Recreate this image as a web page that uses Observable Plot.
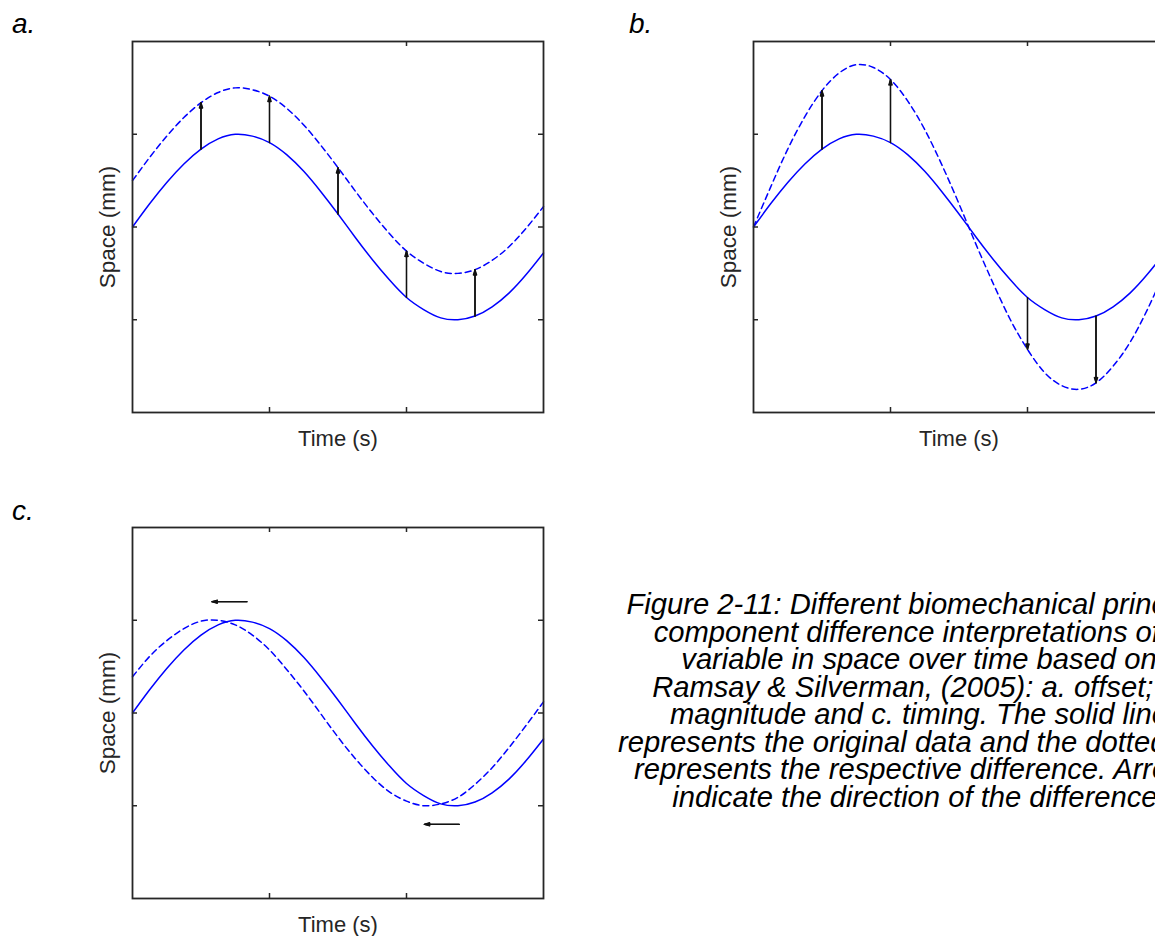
<!DOCTYPE html>
<html><head><meta charset="utf-8">
<script src="https://cdn.jsdelivr.net/npm/d3@7"></script>
<script src="https://cdn.jsdelivr.net/npm/@observablehq/plot@0.6"></script>
<style>
html,body{margin:0;padding:0;background:#fff;overflow:hidden;width:1155px;height:936px;}
#root{position:relative;width:1155px;height:936px;overflow:hidden;background:#fff;}
.panel{position:absolute;}
.lbl{position:absolute;font-family:"Liberation Sans",Arial,sans-serif;font-style:italic;font-size:28px;line-height:28px;color:#000;}
#caption{position:absolute;left:519px;width:800px;top:591px;text-align:center;font-family:"Liberation Sans",Arial,sans-serif;font-style:italic;font-size:29.2px;line-height:27.5px;color:#000;white-space:nowrap;}
</style></head><body><div id="root"></div>
<script>
// Time samples (s) and curve values (mm)
const time = [0,0.25,0.5,0.75,1,1.25,1.5,1.75,2,2.25,2.5,2.75,3,3.25,3.5,3.75,4,4.25,4.5,4.75,5,5.25,5.5,5.75,6];
const original  = [0,0.25,0.48,0.68,0.84,0.95,1.00,0.98,0.91,0.78,0.60,0.38,0.14,-0.11,-0.35,-0.57,-0.76,-0.89,-0.98,-1.00,-0.96,-0.86,-0.71,-0.51,-0.28];
const offsetCurve = [0.50,0.75,0.98,1.18,1.34,1.45,1.50,1.48,1.41,1.28,1.10,0.88,0.64,0.39,0.15,-0.07,-0.26,-0.39,-0.48,-0.50,-0.46,-0.36,-0.21,-0.01,0.22];
const magnitudeCurve = [0,0.43,0.84,1.19,1.47,1.66,1.75,1.72,1.59,1.36,1.05,0.67,0.25,-0.19,-0.61,-1.00,-1.32,-1.57,-1.71,-1.75,-1.68,-1.50,-1.24,-0.89,-0.49];
const timingCurve = [0.39,0.61,0.78,0.91,0.99,1.00,0.95,0.84,0.68,0.47,0.24,-0.01,-0.26,-0.49,-0.69,-0.85,-0.95,-1.00,-0.98,-0.91,-0.77,-0.59,-0.37,-0.13,0.12];

// Arrows
const offsetArrowTime = [1,2,3,4,5];
const offsetArrowFrom = [0.84,0.91,0.14,-0.76,-0.96];
const offsetArrowTo   = [1.34,1.41,0.64,-0.26,-0.46];
const magArrowTime = [1,2,4,5];
const magArrowFrom = [0.84,0.91,-0.76,-0.96];
const magArrowTo   = [1.47,1.59,-1.32,-1.68];
const timingArrowY    = [1.2,-1.2];
const timingArrowFrom = [1.67,4.77];
const timingArrowTo   = [1.16,4.26];

const xTicks = [2,4];
const yTicks = [-1,0,1];
const xLabel = "Time (s)";
const yLabel = "Space (mm)";
const panelLabels = ["a.","b.","c."];
const captionLines = [
  "Figure 2-11: Different biomechanical principal",
  "component difference interpretations of a",
  "variable in space over time based on",
  "Ramsay & Silverman, (2005): a. offset; b.",
  "magnitude and c. timing. The solid line",
  "represents the original data and the dotted line",
  "represents the respective difference. Arrows",
  "indicate the direction of the difference."
];

const W = 560, H = 460, ML = 132, MR = 17, MT = 41, MB = 48;
const IW = W - ML - MR, IH = H - MT - MB;
const axisColor = "#262626";
const blue = "#0000ff";
const font = "Liberation Sans, Arial, sans-serif";

function rows(vals){ return time.map((t,i)=>({t, v: vals[i]})); }

function arrowMarks(arrows){
  // stacked chevrons of decreasing angle give a filled-looking head
  return [36, 24, 12].map(a => Plot.arrow(arrows, {x1: "x1", y1: "y1", x2: "x2", y2: "y2", stroke: "#111", strokeWidth: 1.2, headLength: 7, headAngle: a}));
}

function panel(dashed, arrows){
  return Plot.plot({
    width: W, height: H,
    marginLeft: ML, marginRight: MR, marginTop: MT, marginBottom: MB,
    x: {domain: [0,6], axis: null},
    y: {domain: [-2,2], axis: null},
    style: {background: "transparent", overflow: "visible"},
    marks: [
      Plot.line(rows(dashed), {x: "t", y: "v", stroke: blue, strokeWidth: 1.5, strokeDasharray: "6,4", curve: "natural"}),
      Plot.line(rows(original), {x: "t", y: "v", stroke: blue, strokeWidth: 1.5, curve: "natural"}),
      ...arrowMarks(arrows),
      Plot.tickX(xTicks, {x: d=>d, insetTop: IH-5, stroke: axisColor, strokeWidth: 1.5}),
      Plot.tickX(xTicks, {x: d=>d, insetBottom: IH-5, stroke: axisColor, strokeWidth: 1.5}),
      Plot.tickY(yTicks, {y: d=>d, insetRight: IW-5, stroke: axisColor, strokeWidth: 1.5}),
      Plot.tickY(yTicks, {y: d=>d, insetLeft: IW-5, stroke: axisColor, strokeWidth: 1.5}),
      Plot.frame({stroke: axisColor, strokeWidth: 1.8}),
      Plot.text([xLabel], {text: d=>d, frameAnchor: "bottom", textAnchor: "middle", lineAnchor: "bottom", dy: 33, fontSize: 22, fill: axisColor, fontFamily: font}),
      Plot.text([yLabel], {text: d=>d, frameAnchor: "left", textAnchor: "middle", lineAnchor: "bottom", rotate: -90, dx: -18, fontSize: 22.5, fill: axisColor, fontFamily: font})
    ]
  });
}

const root = document.getElementById("root");
function place(el, left, top){ el.classList.add("panel"); el.style.left = left+"px"; el.style.top = top+"px"; root.appendChild(el); }

const arrowsA = offsetArrowTime.map((t,i)=>({x1:t, x2:t, y1:offsetArrowFrom[i], y2:offsetArrowTo[i]}));
const arrowsB = magArrowTime.map((t,i)=>({x1:t, x2:t, y1:magArrowFrom[i], y2:magArrowTo[i]}));
const arrowsC = timingArrowY.map((y,i)=>({x1:timingArrowFrom[i], x2:timingArrowTo[i], y1:y, y2:y}));

place(panel(offsetCurve, arrowsA), 0, 0);
place(panel(magnitudeCurve, arrowsB), 621, 0);
place(panel(timingCurve, arrowsC), 0, 486);

const labelPos = [[12,10],[629,10],[12,497]];
panelLabels.forEach((t,i)=>{
  const d = document.createElement("div");
  d.className = "lbl"; d.textContent = t;
  d.style.left = labelPos[i][0]+"px"; d.style.top = labelPos[i][1]+"px";
  root.appendChild(d);
});

const cap = document.createElement("div");
cap.id = "caption";
captionLines.forEach(l=>{ const d = document.createElement("div"); d.textContent = l; cap.appendChild(d); });
root.appendChild(cap);
</script>
</body></html>
